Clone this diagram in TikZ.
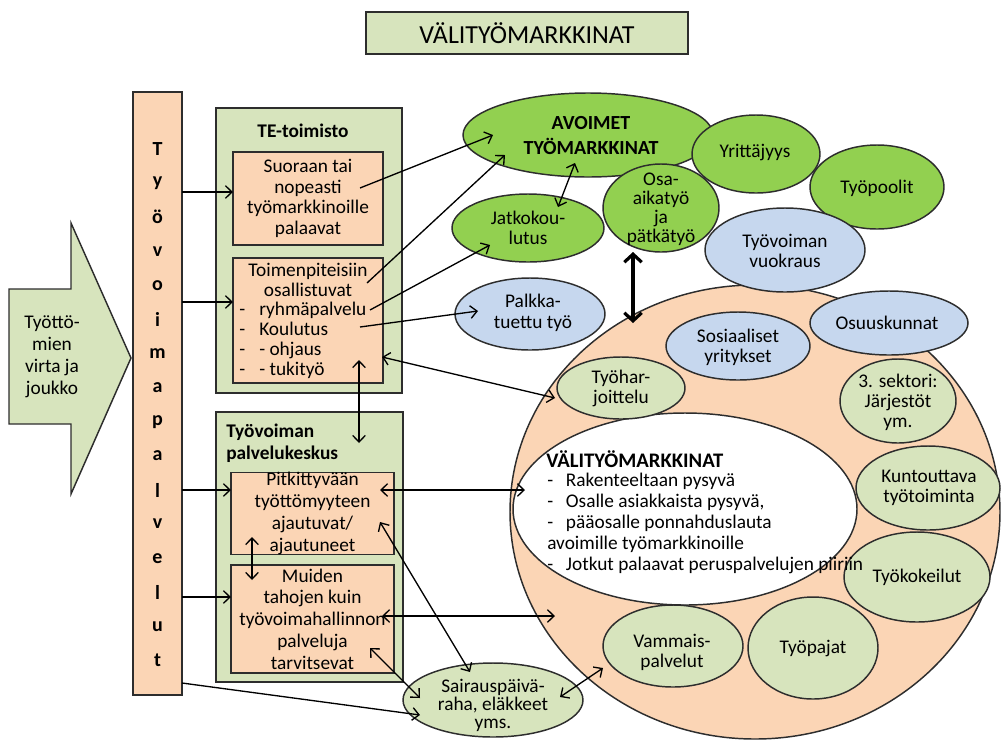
\documentclass[tikz,border=0pt]{standalone}
\usepackage{fontspec}
\setmainfont{Carlito}
\usetikzlibrary{shapes.geometric,arrows.meta,calc}
\definecolor{lgreen}{RGB}{215,228,189}
\definecolor{peach}{RGB}{251,213,181}
\definecolor{bgreen}{RGB}{146,208,80}
\definecolor{lblue}{RGB}{198,215,238}
\definecolor{edgec}{RGB}{45,45,45}
\begin{document}
\setlength{\lineskiplimit}{-10pt}
\begin{tikzpicture}[x=0.75pt,y=-0.75pt,
  outl/.style={draw=edgec, line width=1.1pt},
  rbox/.style={outl, rectangle, fill=peach, inner sep=0pt},
  gbox/.style={outl, rectangle, fill=lgreen, inner sep=0pt},
  ell/.style={outl, ellipse, inner sep=0pt},
  txt/.style={align=center, inner sep=0pt, font=\fontsize{14.5}{15}\selectfont},
  btxt/.style={txt, font=\fontsize{14.5}{16.5}\selectfont\bfseries},
  tip/.tip={Straight Barb[length=5pt,width=9.5pt]},
  arr/.style={draw=black, line width=1pt, -tip},
  darr/.style={draw=black, line width=1pt, tip-tip},
  thick arr/.style={draw=black, line width=2.4pt, {Straight Barb[length=6pt,width=13pt]}-{Straight Barb[length=6pt,width=13pt]}}
]
\useasboundingbox (0,0) rectangle (1006,740);

% title
\node[gbox, minimum width=241.5pt, minimum height=31.5pt, font=\fontsize{19.5}{22}\selectfont] (title) at (527,33) {VÄLITYÖMARKKINAT};

% incoming flow arrow
\draw[outl, fill=lgreen, line join=miter] (9,289) -- (71,289) -- (71,223) -- (131,358) -- (71,494) -- (71,424) -- (9,424) -- cycle;
\node[txt, font=\fontsize{14.5}{16.5}\selectfont] (flow) at (52,357) {Työttö-\\mien\\virta ja\\joukko};

% vertical bar
\node[rbox, minimum width=36.75pt, minimum height=452.25pt] (bar) at (157.5,393.5) {};
\foreach \l [count=\i] in {T,y,ö,v,o,i,m,a,p,a,l,v,e,l,u,t}
  \node[font=\fontsize{15}{15}\selectfont\bfseries, inner sep=0pt] (bl\i) at (157.5,{149+(\i-1)*34.1}) {\l};

% TE-toimisto
\node[gbox, minimum width=139.5pt, minimum height=213.75pt] (te) at (309,250.5) {};
\node[btxt] (tet) at (303,131) {TE-toimisto};
\node[rbox, minimum width=112.5pt, minimum height=69.75pt, txt, font=\fontsize{14.5}{15.5}\selectfont] (suor) at (308,198.5) {Suoraan tai\\nopeasti\\työmarkkinoille\\palaavat};
\node[rbox, minimum width=112.5pt, minimum height=93.75pt] (toim) at (308,320.5) {};
\node[txt, font=\fontsize{14.5}{14.5}\selectfont] (toimh) at (308,280) {Toimenpiteisiin\\osallistuvat};
\node[txt, align=left, anchor=north west, font=\fontsize{14.5}{15}\selectfont] (toiml) at (239,302) {\makebox[15pt][l]{-}ryhmäpalvelu\\\makebox[15pt][l]{-}Koulutus\\\makebox[15pt][l]{-}- ohjaus\\\makebox[15pt][l]{-}- tukityö};

% Tyovoiman palvelukeskus
\node[gbox, minimum width=140.25pt, minimum height=202.5pt] (tpk) at (309.5,547) {};
\node[btxt, align=left, anchor=north west] (tpkt) at (226,424) {Työvoiman\\palvelukeskus};
\node[rbox, minimum width=122.25pt, minimum height=60.75pt, txt, font=\fontsize{14.5}{16.3}\selectfont] (pitk) at (312.5,513.5) {Pitkittyvään\\työttömyyteen\\ajautuvat/\\ajautuneet};
\node[rbox, minimum width=122.25pt, minimum height=81pt, txt, font=\fontsize{14.5}{16.3}\selectfont] (muid) at (312.5,619) {Muiden\\tahojen kuin\\työvoimahallinnon\\palveluja\\tarvitsevat};

% big ellipses
\node[ell, fill=peach, minimum width=367.5pt, minimum height=340.5pt] (peach) at (755,512) {};
\node[ell, fill=white, minimum width=258pt, minimum height=144pt] (white) at (685,509) {};

% small ellipses
\node[ell, fill=bgreen, minimum width=187.5pt, minimum height=63pt] (avo) at (588,135) {};
\node[ell, fill=bgreen, minimum width=96pt, minimum height=58.5pt] (yrit) at (756,154) {};
\node[ell, fill=bgreen, minimum width=100.5pt, minimum height=63pt] (poo) at (877,187) {};
\node[ell, fill=bgreen, minimum width=87pt, minimum height=66pt] (osa) at (661,208) {};
\node[ell, fill=lblue, minimum width=120pt, minimum height=63pt] (vuok) at (785,250) {};
\node[ell, fill=bgreen, minimum width=114pt, minimum height=51pt] (jatko) at (528,228) {};
\node[ell, fill=lblue, minimum width=112.5pt, minimum height=54pt] (palk) at (530,314) {};
\node[ell, fill=lblue, minimum width=118.5pt, minimum height=48pt] (osuus) at (889,323) {};
\node[ell, fill=lblue, minimum width=108pt, minimum height=51pt] (sosi) at (738,346) {};
\node[ell, fill=lgreen, minimum width=96pt, minimum height=46.5pt] (tyoh) at (621,388) {};
\node[ell, fill=lgreen, minimum width=87pt, minimum height=63pt] (sekt) at (898,401) {};
\node[ell, fill=lgreen, minimum width=108pt, minimum height=63pt] (kunt) at (928,488) {};
\node[ell, fill=lgreen, minimum width=109.5pt, minimum height=67.5pt] (koke) at (917,577) {};
\node[ell, fill=lgreen, minimum width=97.5pt, minimum height=76.5pt] (paja) at (813,648) {};
\node[ell, fill=lgreen, minimum width=105pt, minimum height=61.5pt] (vamm) at (673,646) {};
\node[ell, fill=lgreen, minimum width=135pt, minimum height=55.5pt] (sair) at (493,700) {};

% ellipse texts
\node[btxt, font=\fontsize{15}{18.75}\selectfont\bfseries] (avot) at (591,136) {AVOIMET\\TYÖMARKKINAT};
\node[txt] (yritt) at (755,153) {Yrittäjyys};
\node[txt] (poot) at (877,188) {Työpoolit};
\node[txt, font=\fontsize{14.5}{14.25}\selectfont] (osat) at (661,209) {Osa-\\aikatyö\\ja\\pätkätyö};
\node[txt] (vuokt) at (785,251) {Työvoiman\\vuokraus};
\node[txt] (jatkot) at (528,228) {Jatkokou-\\lutus};
\node[txt, font=\fontsize{14.5}{15.75}\selectfont] (palkt) at (533,313) {Palkka-\\tuettu työ};
\node[txt] (osuust) at (887,323) {Osuuskunnat};
\node[txt] (sosit) at (738,347) {Sosiaaliset\\yritykset};
\node[txt] (tyoht) at (621,388) {Työhar-\\joittelu};
\node[txt] (sektt) at (898,402) {3. sektori:\\Järjestöt\\ym.};
\node[txt] (kuntt) at (929,488) {Kuntouttava\\työtoiminta};
\node[txt] (koket) at (917,577) {Työkokeilut};
\node[txt] (pajat) at (813,648) {Työpajat};
\node[txt] (vammt) at (672,652) {Vammais-\\palvelut};
\node[txt, font=\fontsize{14.5}{13.5}\selectfont] (sairt) at (493,705) {Sairauspäivä-\\raha, eläkkeet\\yms.};

% white ellipse text
\node[btxt, anchor=west, font=\fontsize{15.5}{17}\selectfont\bfseries] (vt) at (546,459) {VÄLITYÖMARKKINAT};
\node[txt, align=left, anchor=north west, font=\fontsize{14.5}{15.75}\selectfont] (vl) at (547,473) {\makebox[14pt][l]{-}Rakenteeltaan pysyvä\\\makebox[14pt][l]{-}Osalle asiakkaista pysyvä,\\\makebox[14pt][l]{-}pääosalle ponnahduslauta\\avoimille työmarkkinoille\\\makebox[14pt][l]{-}Jotkut palaavat peruspalvelujen piiriin};

% connectors
\draw[arr] ($(bar)+(24.5,-201.5)$) -- ($(suor)+(-75,-6.5)$);
\draw[arr] ($(bar)+(24.5,-91.5)$) -- ($(toim)+(-75,-18.5)$);
\draw[arr] ($(bar)+(24.5,96.5)$) -- ($(pitk)+(-81.5,-23.5)$);
\draw[arr] ($(bar)+(24.5,203.5)$) -- ($(muid)+(-81.5,-22)$);
\draw[arr] ($(bar)+(24.5,289.5)$) -- ($(sair)+(-73,15)$);
\draw[arr] ($(suor)+(52,-10.5)$) -- ($(avo)+(-95,0)$);
\draw[arr] ($(toim)+(59,-37.5)$) -- ($(avo)+(-83,20)$);
\draw[arr] ($(toim)+(62,-10.5)$) -- ($(jatko)+(-38,17)$);
\draw[arr] ($(toim)+(52,6.5)$) -- ($(palk)+(-52,-3)$);
\draw[darr] ($(toim)+(74,36.5)$) -- ($(tyoh)+(-66,10)$);
\draw[darr] ($(toim)+(51,39.5)$) -- ($(tpk)+(49.5,-104)$);
\draw[darr] ($(pitk)+(67.5,-23.5)$) -- ($(white)+(-160,-19)$);
\draw[darr] ($(muid)+(69.5,-3)$) -- ($(peach)+(-200,104)$);
\draw[darr] ($(pitk)+(67.5,8.5)$) -- ($(sair)+(-23,-28)$);
\draw[darr] ($(muid)+(57.5,29)$) -- ($(sair)+(-73,-2)$);
\draw[darr] ($(sair)+(67,-3)$) -- ($(vamm)+(-70,22)$);
\draw[darr] ($(pitk)+(-60.5,23.5)$) -- ($(muid)+(-60.5,-39)$);
\draw[darr] ($(avo)+(-13,28)$) -- ($(jatko)+(30,-21)$);
\draw[thick arr] ($(osa)+(-28,44)$) -- ($(peach)+(-122,-189)$);
\end{tikzpicture}
\end{document}
